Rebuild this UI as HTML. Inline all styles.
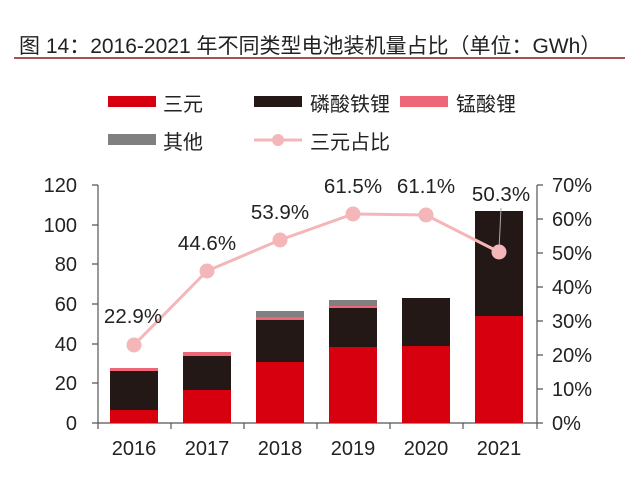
<!DOCTYPE html>
<html><head><meta charset="utf-8"><style>
body{margin:0;background:#fff;}
svg text{font-family:"Liberation Sans","Noto Sans CJK SC",sans-serif;fill:#222;}
</style></head><body>
<svg width="640" height="484" viewBox="0 0 640 484" xmlns="http://www.w3.org/2000/svg">
<text x="19" y="53" font-size="21">图 14：2016-2021 年不同类型电池装机量占比（单位：GWh）</text>
<line x1="14" y1="58" x2="625" y2="58" stroke="#8b1a1a" stroke-width="1.5"/>
<!-- legend -->
<rect x="108" y="96" width="48" height="11" fill="#d7000f"/><text x="163" y="111" font-size="20">三元</text>
<rect x="254" y="96" width="48" height="11" fill="#231815"/><text x="310" y="111" font-size="20">磷酸铁锂</text>
<rect x="400" y="96" width="48" height="11" fill="#ee6677"/><text x="456" y="111" font-size="20">锰酸锂</text>
<rect x="108" y="134" width="48" height="11" fill="#808080"/><text x="163" y="149" font-size="20">其他</text>
<line x1="254" y1="140" x2="302" y2="140" stroke="#f4b6b8" stroke-width="3"/><circle cx="278" cy="140" r="6" fill="#f4b6b8"/><text x="310" y="149" font-size="20">三元占比</text>
<!-- axes -->
<g stroke="#555" stroke-width="1.2" fill="none">
<line x1="98" y1="185" x2="98" y2="423"/>
<line x1="92" y1="423" x2="537" y2="423"/>
<line x1="537" y1="185" x2="537" y2="423"/>
<path d="M92 185H98M92 225H98M92 264H98M92 304H98M92 344H98M92 383H98"/>
<path d="M537 185H543M537 219H543M537 253H543M537 287H543M537 321H543M537 355H543M537 389H543M537 423H543"/>
<path d="M98 423V429M171 423V429M244 423V429M317 423V429M390 423V429M463 423V429M537 423V429"/>
</g>
<g font-size="20" text-anchor="end">
<text x="77" y="192">120</text><text x="77" y="232">100</text><text x="77" y="271">80</text><text x="77" y="311">60</text><text x="77" y="351">40</text><text x="77" y="390">20</text><text x="77" y="430">0</text>
</g>
<g font-size="20">
<text x="552" y="192">70%</text><text x="552" y="226">60%</text><text x="552" y="260">50%</text><text x="552" y="294">40%</text><text x="552" y="328">30%</text><text x="552" y="362">20%</text><text x="552" y="396">10%</text><text x="552" y="430">0%</text>
</g>
<g font-size="20" text-anchor="middle">
<text x="134" y="455">2016</text><text x="207" y="455">2017</text><text x="280" y="455">2018</text><text x="353" y="455">2019</text><text x="426" y="455">2020</text><text x="499" y="455">2021</text>
</g>
<!-- bars -->
<g>
<rect x="110" y="410" width="48" height="13" fill="#d7000f"/><rect x="110" y="371" width="48" height="39" fill="#231815"/><rect x="110" y="368" width="48" height="3" fill="#ee6677"/>
<rect x="183" y="390" width="48" height="33" fill="#d7000f"/><rect x="183" y="356" width="48" height="34" fill="#231815"/><rect x="183" y="352" width="48" height="4" fill="#ee6677"/>
<rect x="256" y="362" width="48" height="61" fill="#d7000f"/><rect x="256" y="320" width="48" height="42" fill="#231815"/><rect x="256" y="317" width="48" height="3" fill="#ee6677"/><rect x="256" y="311" width="48" height="6" fill="#808080"/>
<rect x="329" y="347" width="48" height="76" fill="#d7000f"/><rect x="329" y="308" width="48" height="39" fill="#231815"/><rect x="329" y="306" width="48" height="2" fill="#ee6677"/><rect x="329" y="300" width="48" height="6" fill="#808080"/>
<rect x="402" y="346" width="48" height="77" fill="#d7000f"/><rect x="402" y="298" width="48" height="48" fill="#231815"/>
<rect x="475" y="316" width="48" height="107" fill="#d7000f"/><rect x="475" y="211" width="48" height="105" fill="#231815"/>
</g>
<line x1="501" y1="208" x2="499" y2="250" stroke="#aaa" stroke-width="1"/>
<polyline points="134,345 207,271 280,240 353,214 426,215 499,252" fill="none" stroke="#f4b6b8" stroke-width="3"/>
<g fill="#f4b6b8">
<circle cx="134" cy="345" r="7.5"/><circle cx="207" cy="271" r="7.5"/><circle cx="280" cy="240" r="7.5"/><circle cx="353" cy="214" r="7.5"/><circle cx="426" cy="215" r="7.5"/><circle cx="499" cy="252" r="7.5"/>
</g>
<g font-size="20.5" text-anchor="middle">
<text x="133" y="323">22.9%</text><text x="207" y="250">44.6%</text><text x="280" y="219">53.9%</text><text x="353" y="193">61.5%</text><text x="426" y="193">61.1%</text><text x="501" y="201">50.3%</text>
</g>
</svg>
</body></html>
